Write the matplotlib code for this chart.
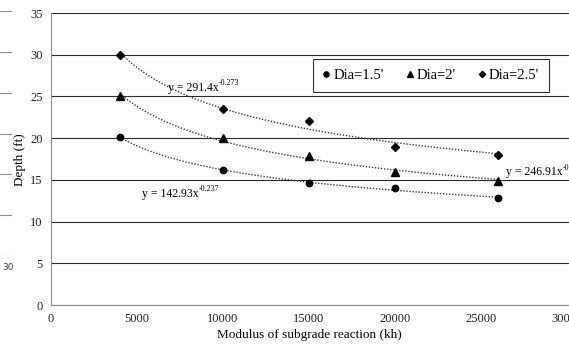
import numpy as np
import matplotlib
matplotlib.use('Agg')
import matplotlib.pyplot as plt

# data
kh = [4000, 10000, 15000, 20000, 26000]
dia_15 = [20.1, 16.2, 14.6, 14.0, 12.8]
dia_2 = [25.0, 20.0, 17.9, 15.9, 14.9]
dia_25 = [30.0, 23.5, 22.1, 18.9, 18.0]

labels = ["Dia=1.5'", "Dia=2'", "Dia=2.5'"]
markers = ['o', '^', 'D']
msizes = [4.6, 5.2, 4.0]
eq_base = ['y = 142.93x', 'y = 246.91x', 'y = 291.4x']
eq_exp = ['-0.237', '-0.276', '-0.273']

plt.rcParams['font.family'] = ['Liberation Serif', 'DejaVu Serif']

W, H = 569, 346
fig = plt.figure(figsize=(W / 100, H / 100), dpi=100)

# fragment of the neighbouring chart on the left edge
ax0 = fig.add_axes([-0.5, (H - 256) / H, 0.5 + 12 / W, (256 - 11) / H])
ax0.set_xlim(0, 30)
ax0.set_ylim(0, 6)
ax0.set_yticks(range(7))
ax0.set_xticks([])
ax0.grid(axis='y', color='#8c8c8c', lw=0.8)
ax0.tick_params(left=False, labelleft=False)
for s in ax0.spines.values():
    s.set_visible(False)
ax0.patch.set_visible(False)
fig.text(8 / W, 1 - 267 / H, '30', family='DejaVu Sans', fontsize=6.5,
         color='#404040', ha='center', va='center')

# main chart
x0, x1 = 51, 567
ax = fig.add_axes([x0 / W, (H - 305) / H, (W - x0) / W, (305 - 13) / H])
xmax = 30000 * (W - x0) / (x1 - x0)
ax.set_xlim(0, xmax)
ax.set_ylim(0, 35)
ax.set_xticks(range(0, 30001, 5000))
ax.set_yticks(range(0, 36, 5))
ax.grid(axis='y', color='#2a2a2a', lw=0.8)
ax.set_axisbelow(True)
ax.tick_params(length=0, labelsize=9, pad=6, colors='#222222')
for s in ['top', 'right']:
    ax.spines[s].set_visible(False)
for s in ['left', 'bottom']:
    ax.spines[s].set_color('#8c8c8c')
    ax.spines[s].set_linewidth(0.8)

series = [dia_15, dia_2, dia_25]
xs = np.array(kh, dtype=float)
xfit = np.linspace(xs.min(), xs.max(), 200)
handles = []
for ys, lab, m, ms in zip(series, labels, markers, msizes):
    b, a = np.polyfit(np.log(xs), np.log(ys), 1)
    ax.plot(xfit, np.exp(a) * xfit ** b, color='#3a3a3a', lw=1.0,
            linestyle=(0, (1, 1.2)), zorder=2)
    h, = ax.plot(kh, ys, linestyle='none', marker=m, ms=ms, color='black',
                 label=lab, zorder=3)
    handles.append(h)

# trendline equations
eq_pos = [(5300, 13.3), (26450, 15.9), (6800, 26.0)]
for (ex, ey), base, exp in zip(eq_pos, eq_base, eq_exp):
    t = ax.text(ex, ey, base, fontsize=8.5, va='center', ha='left',
                clip_on=False)
    ax.annotate(exp, xy=(1, 0.55), xycoords=t, fontsize=5.8,
                va='bottom', ha='left', annotation_clip=False)

leg = fig.legend(handles=handles, loc='center', ncol=3,
                 bbox_to_anchor=(431 / W, 1 - 75.5 / H), fontsize=10.5,
                 frameon=True, fancybox=False, handlelength=0.5,
                 handletextpad=0.25, columnspacing=1.5, borderpad=0.65,
                 markerscale=0.8)
leg.get_frame().set_edgecolor('black')
leg.get_frame().set_linewidth(0.8)

fig.text(20 / W, 1 - 160 / H, 'Depth (ft)', rotation=90, fontsize=9.5,
         ha='center', va='center')
fig.text(309 / W, 1 - 335 / H, 'Modulus of subgrade reaction (kh)',
         fontsize=9.5, ha='center', va='center')

fig.savefig('out.png', dpi=100)
